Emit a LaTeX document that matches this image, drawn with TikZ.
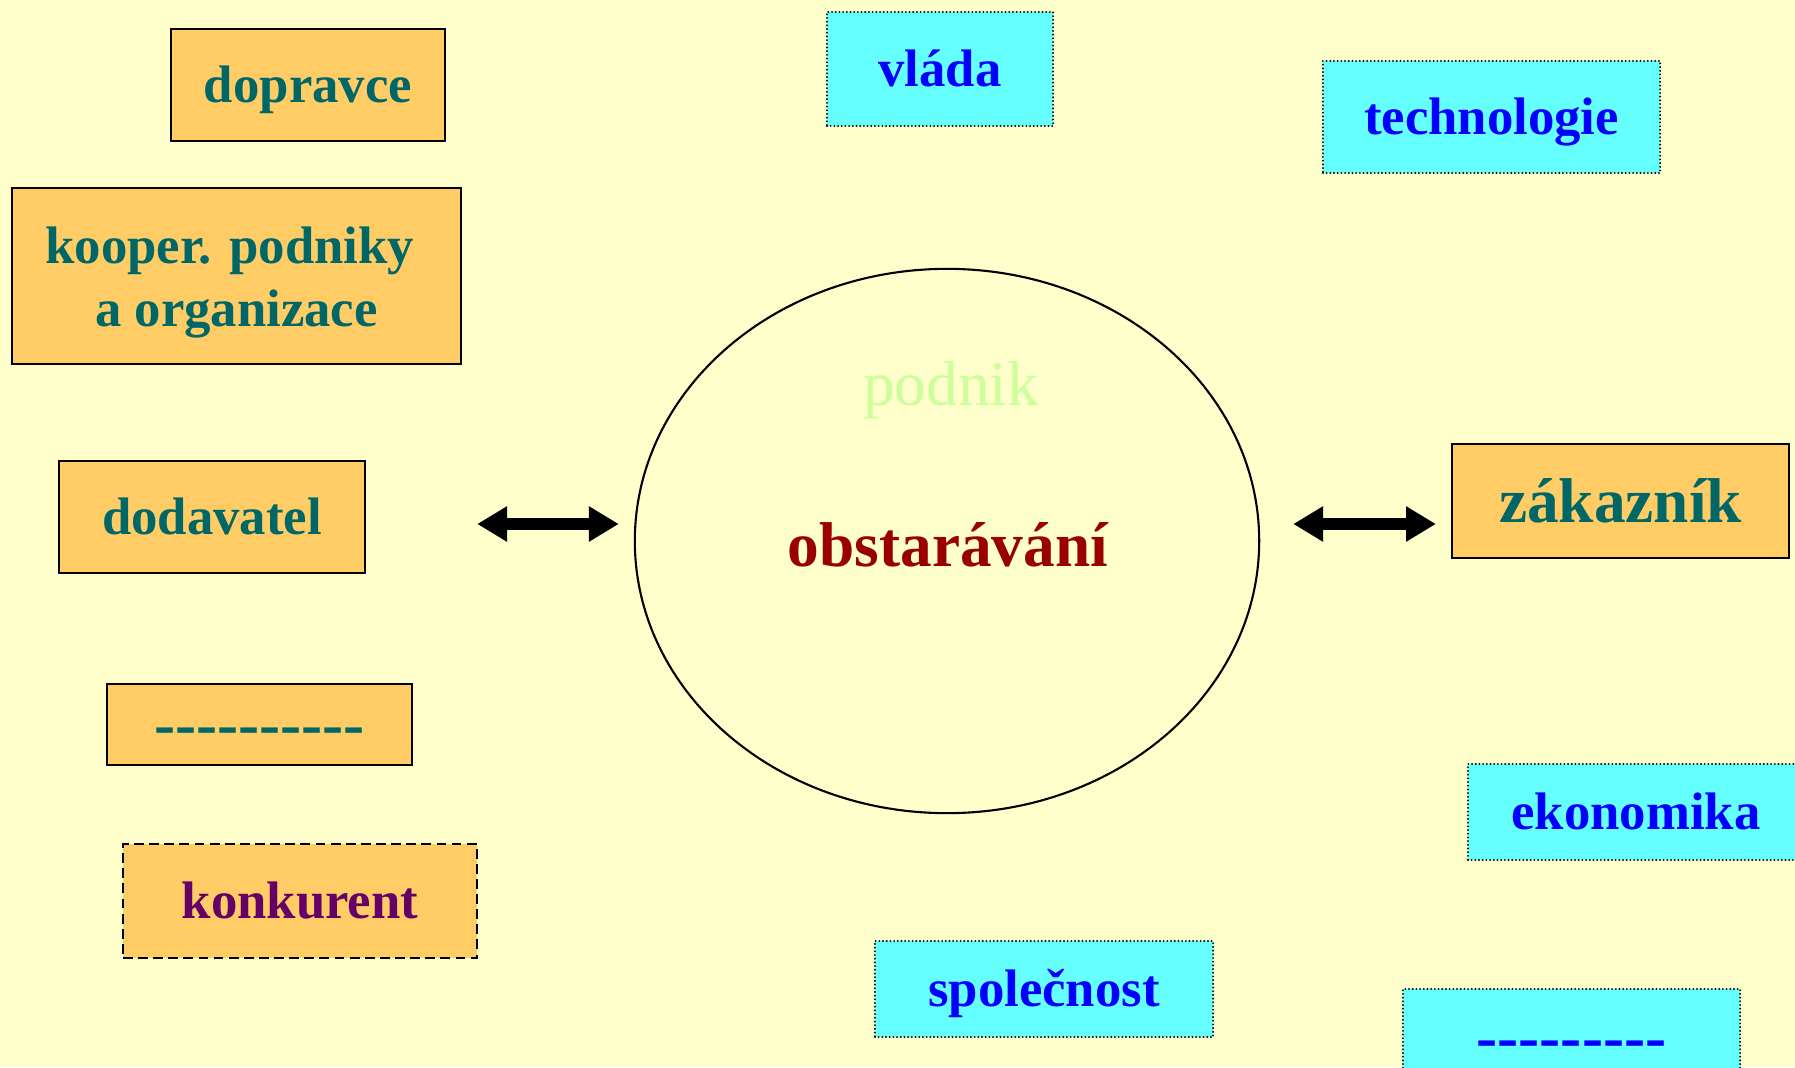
\documentclass[tikz,border=0pt]{standalone}
\usepackage{fontspec}
\setmainfont{Liberation Serif}
\usepackage{tikz}
\usetikzlibrary{arrows.meta,shapes.geometric,positioning}

\definecolor{bgyellow}{HTML}{FFFFCC}
\definecolor{boxorange}{HTML}{FFCC66}
\definecolor{boxcyan}{HTML}{66FFFF}
\definecolor{textteal}{HTML}{006666}
\definecolor{textblue}{HTML}{0000FF}
\definecolor{textpurple}{HTML}{660066}
\definecolor{textred}{HTML}{990000}
\definecolor{textgreen}{HTML}{CCFF99}

\newcommand{\dashrow}[1]{\foreach \k in {1,...,#1}{\mbox{-}}}

\begin{document}
\begin{tikzpicture}[x=0.01cm,y=-0.01cm,
    partner/.style={draw, line width=0.6pt, fill=boxorange, text=textteal,
      font=\bfseries\fontsize{15}{18}\selectfont, inner sep=0pt, outer sep=0pt,
      text height=13.4pt, text depth=3.2pt},
    rival/.style={partner, dash pattern=on 2.8pt off 1.5pt, text=textpurple},
    surround/.style={partner, fill=boxcyan, text=textblue,
      dash pattern=on 0pt off 1.05pt, line cap=round},
    bigfont/.style={font=\bfseries\fontsize{18}{21.6}\selectfont,
      text height=16pt, text depth=3.9pt},
    twoway/.style={line width=3.4pt,
      {Triangle[length=8.5pt,width=9.5pt]}-{Triangle[length=8.5pt,width=9.5pt]}}]
  % page
  \useasboundingbox (0,0) rectangle (1795,1067);
  \fill[bgyellow] (0,0) rectangle (1795,1067);

  % partners on the left
  \node[partner, minimum width=2.74cm, minimum height=1.12cm] (dopravce) at (308,85) {dopravce};
  \node[partner, align=center, minimum width=4.49cm, minimum height=1.76cm, text height=32.2pt, text depth=3.2pt] (kooper) at (236.5,276) {kooper. podniky\hspace*{0.25em}\\ a organizace};
  \node[partner, minimum width=3.06cm, minimum height=1.12cm] (dodavatel) at (212,517) {dodavatel};
  \node[partner, bigfont, minimum width=3.05cm, minimum height=0.81cm] (dalsi) at (259.5,724.5) {\dashrow{10}};
  \node[rival, minimum width=3.54cm, minimum height=1.14cm] (konkurent) at (300,901) {konkurent};

  % the firm
  \node[ellipse, draw, line width=0.6pt, minimum width=6.24cm, minimum height=5.44cm, inner sep=0pt, outer sep=0pt] (podnik) at (947,541) {};
  \node[text=textgreen, font=\fontsize{18}{21.6}\selectfont, anchor=base] (podniktext) at (951,405) {podnik};
  \node[text=textred, font=\bfseries\fontsize{18}{21.6}\selectfont, anchor=base] (obstaravani) at (948,566) {obstarávání};

  % customer
  \node[partner, bigfont, minimum width=3.37cm, minimum height=1.14cm] (zakaznik) at (1620.5,501) {zákazník};

  % environment
  \node[surround, minimum width=2.26cm, minimum height=1.14cm] (vlada) at (940,69) {vláda};
  \node[surround, minimum width=3.37cm, minimum height=1.12cm] (technologie) at (1491.5,117) {technologie};
  \node[surround, minimum width=3.36cm, minimum height=0.96cm] (ekonomika) at (1636,812) {ekonomika};
  \node[surround, minimum width=3.38cm, minimum height=0.96cm] (spolecnost) at (1044,989) {společnost};
  \node[surround, bigfont, minimum width=3.37cm, minimum height=0.96cm] (ostatni) at (1571.5,1037) {\dashrow{9}};

  % flows
  \coordinate (arrowrow) at (0,524);
  \draw[twoway, shorten <=1.12cm, shorten >=0.16cm] (dodavatel.east |- arrowrow) -- (podnik.west |- arrowrow);
  \draw[twoway, shorten <=0.34cm, shorten >=0.16cm] (podnik.east |- arrowrow) -- (zakaznik.west |- arrowrow);
\end{tikzpicture}
\end{document}
